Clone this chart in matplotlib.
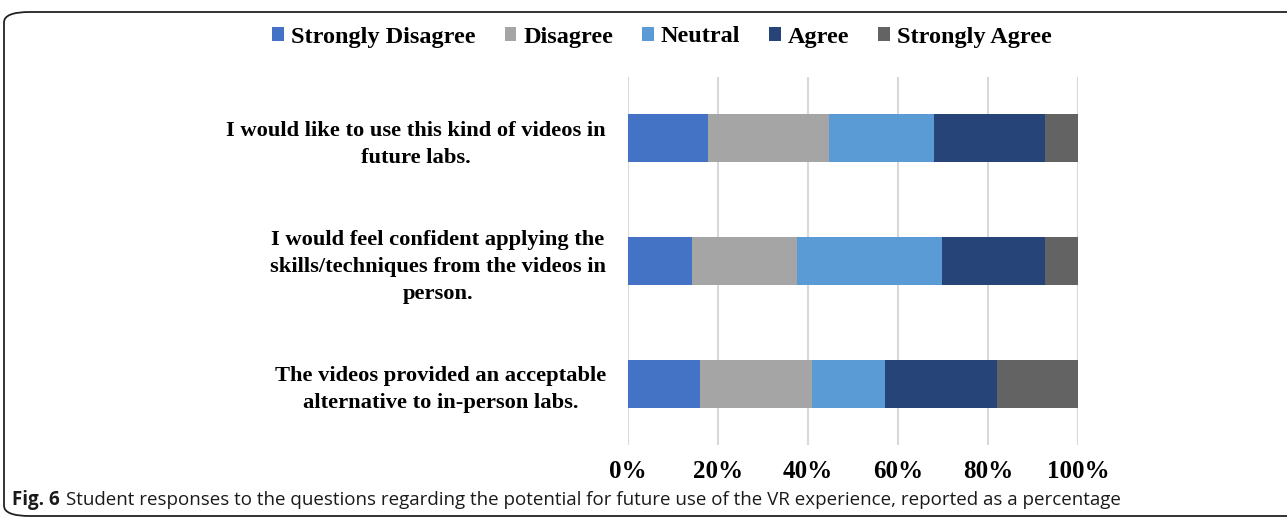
import matplotlib
matplotlib.use("Agg")
import matplotlib.pyplot as plt
from matplotlib.patches import FancyBboxPatch
from matplotlib.transforms import offset_copy
import numpy as np

categories = [
    "I would like to use this kind of videos in\nfuture labs.",
    "I would feel confident applying the\nskills/techniques from the videos in\nperson.",
    "The videos provided an acceptable\nalternative to in-person labs.",
]
series_names = ["Strongly Disagree", "Disagree", "Neutral", "Agree", "Strongly Agree"]
strongly_disagree = [17.8, 14.2, 16.0]
disagree = [26.9, 23.4, 25.0]
neutral = [23.2, 32.1, 16.2]
agree = [24.8, 23.0, 24.9]
strongly_agree = [7.3, 7.3, 17.9]
colors = ["#4472C4", "#A5A5A5", "#5B9BD5", "#264478", "#636363"]
tick_labels = ["0%", "20%", "40%", "60%", "80%", "100%"]

W, H = 1287, 520
fig = plt.figure(figsize=(W / 100, H / 100), dpi=100)

# rounded frame
frame = FancyBboxPatch((4 / W, 4 / H), (W + 40) / W, (H - 12 - 4) / H,
                       boxstyle="round,pad=0,rounding_size=0.02",
                       transform=fig.transFigure, fill=False,
                       edgecolor="#222222", linewidth=1.3, clip_on=False)
fig.patches.append(frame)

ax = fig.add_axes([628 / W, 1 - 445 / H, 450 / W, (445 - 77) / H])
data = [strongly_disagree, disagree, neutral, agree, strongly_agree]
y = np.arange(len(categories))
left = np.zeros(len(categories))
handles = []
for name, vals, c in zip(series_names, data, colors):
    b = ax.barh(y, vals, left=left, height=0.39, color=c, label=name, zorder=3)
    handles.append(b)
    left += np.array(vals)

ax.set_ylim(len(categories) - 0.5, -0.5)
ax.set_xlim(0, 100)
ax.set_xticks(np.arange(0, 101, 20))
ax.set_xticklabels(tick_labels)
ax.set_yticks(y)
ax.set_yticklabels(categories, ha="center", multialignment="center")
for lab in ax.get_yticklabels():
    lab.set_fontfamily("Liberation Serif")
    lab.set_fontweight("bold")
    lab.set_fontsize(16.2)
    lab.set_linespacing(1.48)
ax.tick_params(axis="y", length=0, pad=0)
for lab in ax.get_xticklabels():
    lab.set_fontfamily("Liberation Serif")
    lab.set_fontweight("bold")
    lab.set_fontsize(18)
ax.tick_params(axis="x", length=0, pad=11)
ax.grid(axis="x", color="#D9D9D9", linewidth=1.5, zorder=0)
for s in ax.spines.values():
    s.set_visible(False)

# position y labels: center-aligned block whose right edge ~606px
fig.canvas.draw()
renderer = fig.canvas.get_renderer()
for lab in ax.get_yticklabels():
    bb = lab.get_window_extent(renderer)
    wpx = bb.width
    lab.set_transform(offset_copy(ax.get_yaxis_transform(), fig=fig,
                                  x=(606 - 628 - wpx / 2) * 72 / 100, units="points"))

leg = fig.legend(handles=handles, labels=series_names, loc="center",
                 bbox_to_anchor=(662 / W, 1 - 37 / H), ncol=5, frameon=False,
                 prop={"family": "Liberation Serif", "weight": "bold", "size": 17.5},
                 handlelength=0.48, handleheight=0.48, handletextpad=0.28,
                 columnspacing=1.2)

t1 = fig.text(12 / W, 1 - 500 / H, "Fig. 6", fontsize=13.5, va="center", ha="left",
              family="Open Sans", fontweight="bold", color="#1a1a1a")
fig.canvas.draw()
bb = t1.get_window_extent(fig.canvas.get_renderer())
fig.text((bb.x1 + 6) / W, 1 - 500 / H,
         "Student responses to the questions regarding the potential for future use of the VR experience, reported as a percentage",
         fontsize=13.5, va="center", ha="left", family="Open Sans", color="#1a1a1a")

fig.savefig("out.png", dpi=100)
